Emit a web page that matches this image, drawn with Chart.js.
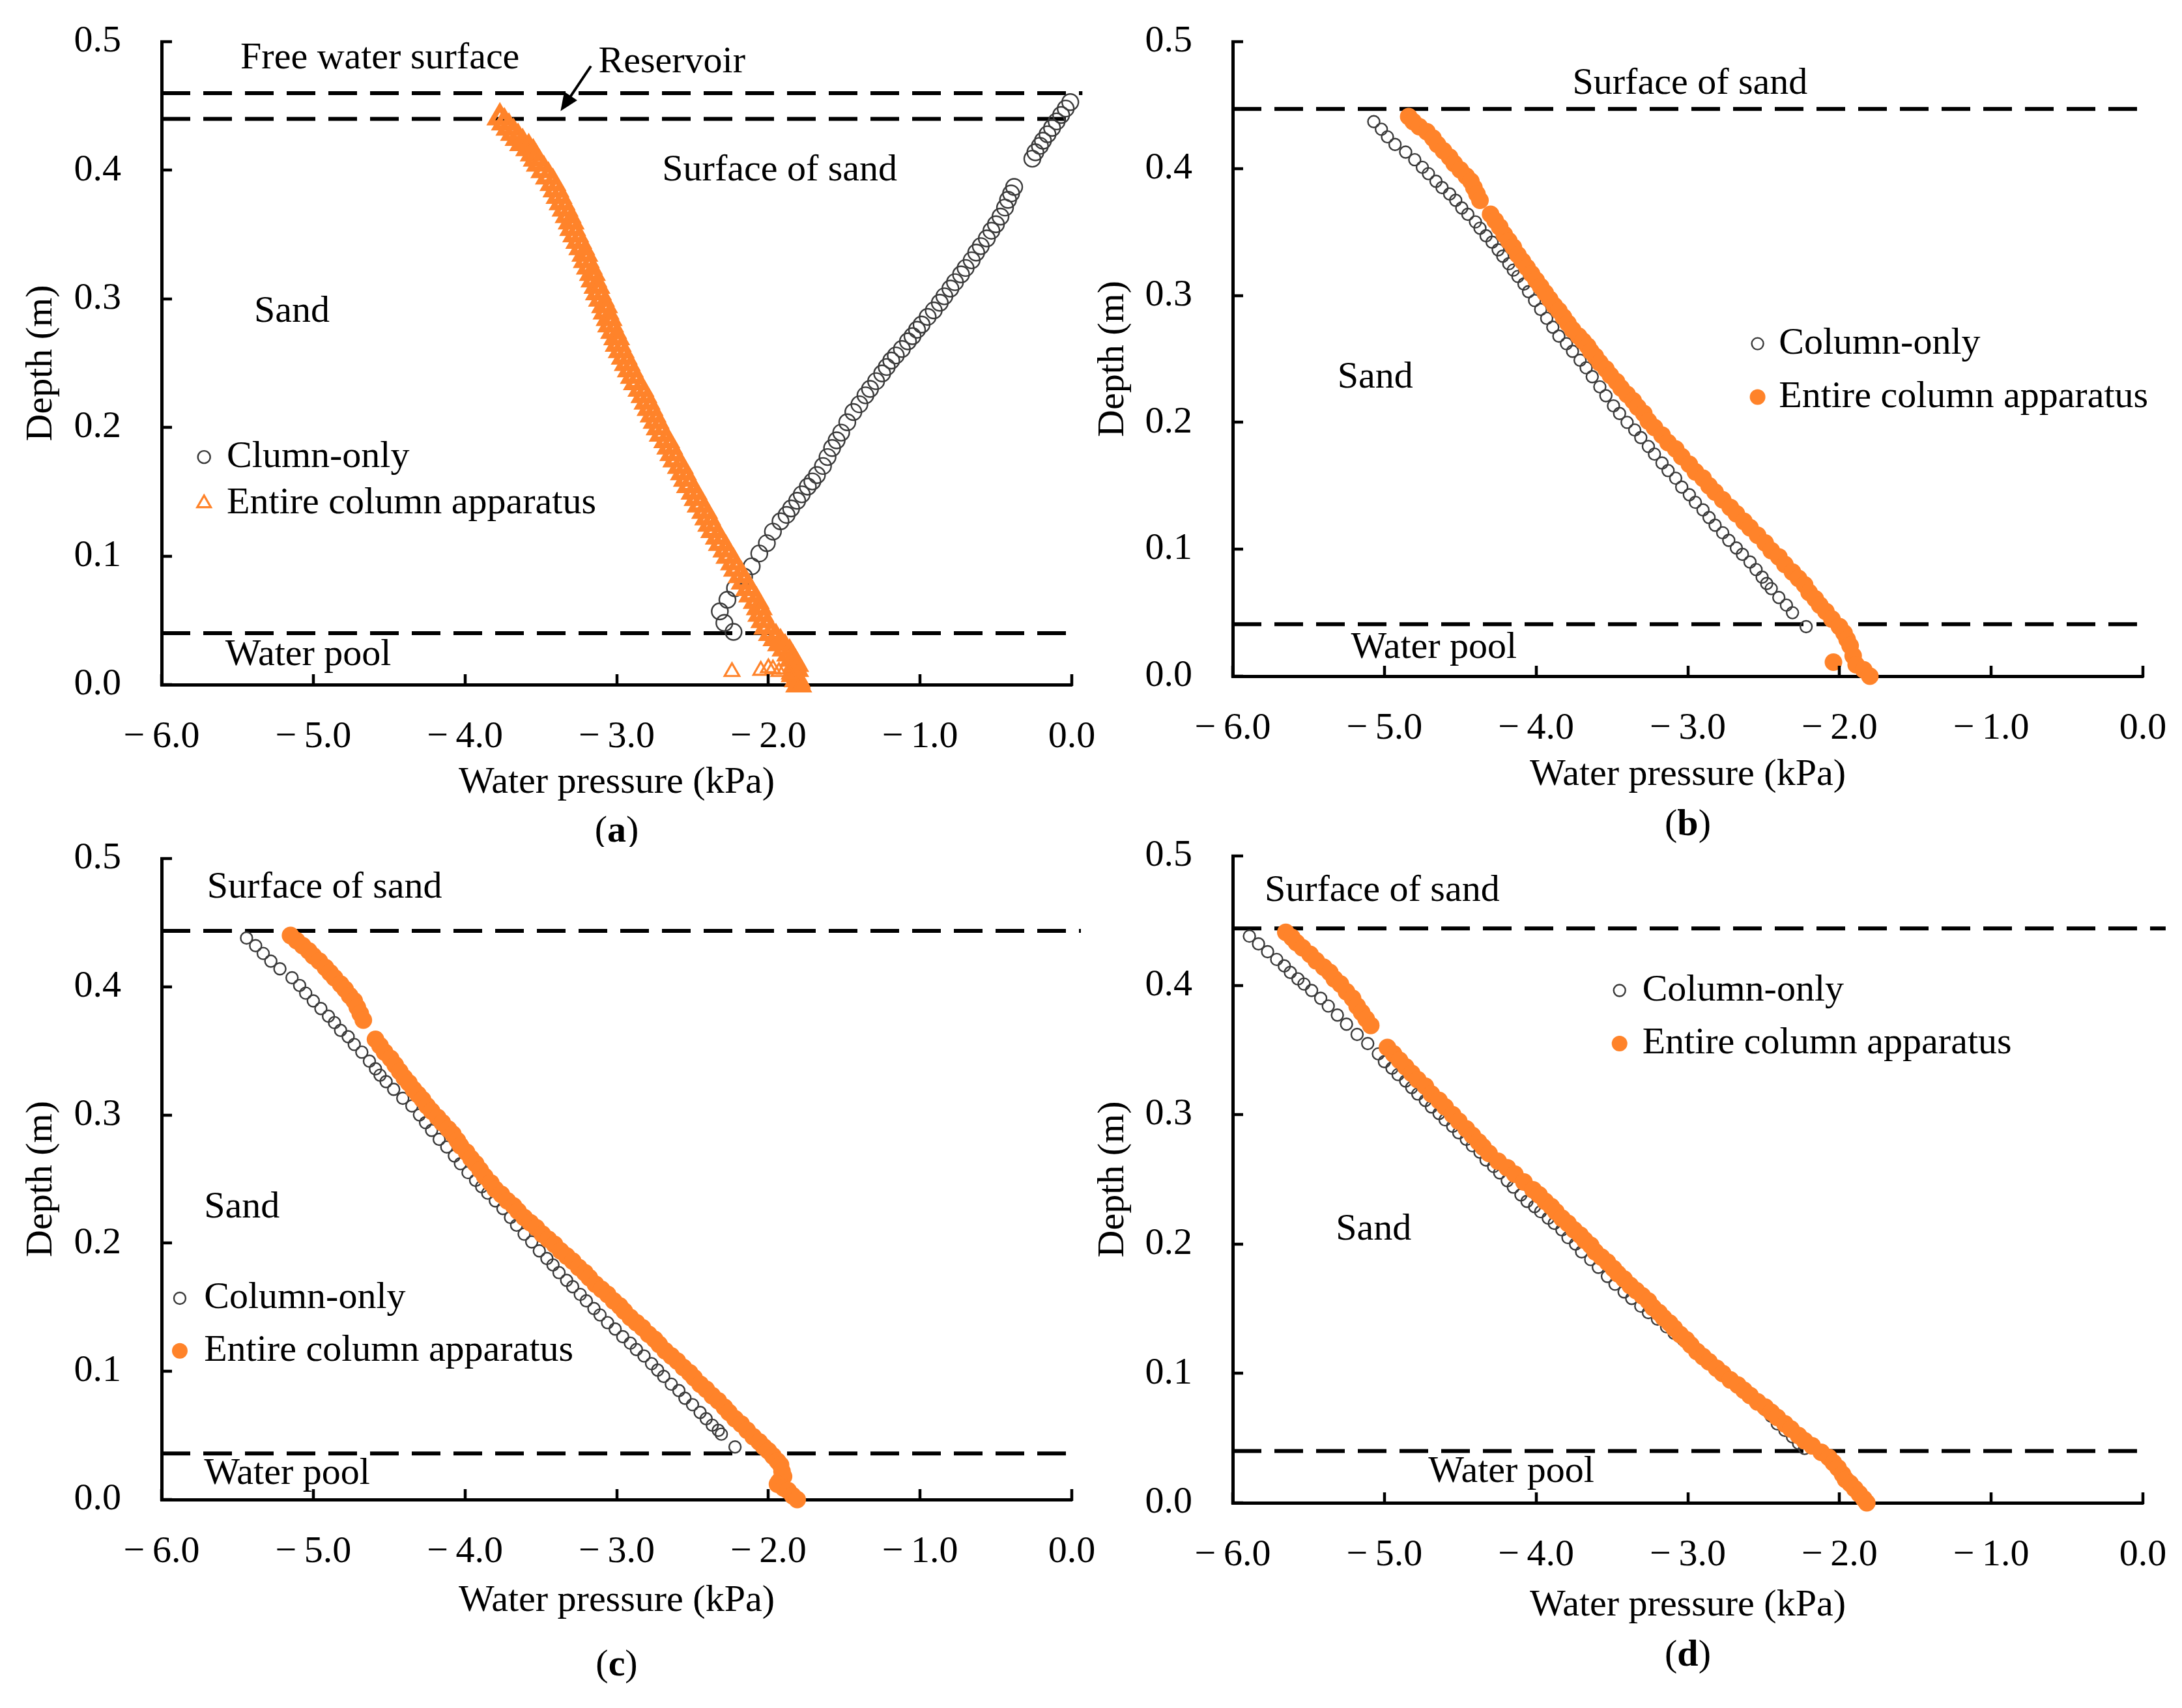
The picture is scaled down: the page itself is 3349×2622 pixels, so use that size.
<!DOCTYPE html>
<html>
<head>
<meta charset="utf-8">
<script src="https://cdn.jsdelivr.net/npm/chart.js@4.4.1/dist/chart.umd.min.js"></script>
<style>
html,body{margin:0;padding:0;background:#fff;}
body{width:3349px;height:2622px;position:relative;overflow:hidden;}
</style>
</head>
<body>
<script>
// ---------------- DATA ----------------
const xTickLabels = ['\u2212\u20096.0','\u2212\u20095.0','\u2212\u20094.0','\u2212\u20093.0','\u2212\u20092.0','\u2212\u20091.0','0.0'];
const yTickLabels = ['0.0','0.1','0.2','0.3','0.4','0.5'];
const xTitle = 'Water pressure (kPa)';
const yTitle = 'Depth (m)';
const seriesLabelsA = ['Clumn-only','Entire column apparatus'];
const seriesLabels = ['Column-only','Entire column apparatus'];

// panel (a): [pressure kPa, depth m]
const aColumnOnly = [[-2.23,0.041],[-2.29,0.048],[-2.32,0.057],[-2.27,0.066],[-2.22,0.075],[-2.16,0.084],[-2.11,0.092],[-2.06,0.102],[-2.01,0.110],[-1.97,0.119],[-1.92,0.127],[-1.88,0.132],[-1.85,0.137],[-1.81,0.143],[-1.78,0.148],[-1.74,0.154],[-1.71,0.158],[-1.68,0.163],[-1.64,0.170],[-1.61,0.177],[-1.58,0.184],[-1.55,0.190],[-1.52,0.196],[-1.48,0.204],[-1.44,0.212],[-1.40,0.218],[-1.36,0.225],[-1.33,0.230],[-1.29,0.236],[-1.25,0.242],[-1.22,0.247],[-1.19,0.252],[-1.16,0.256],[-1.12,0.261],[-1.08,0.267],[-1.05,0.271],[-1.02,0.276],[-0.99,0.280],[-0.95,0.286],[-0.91,0.291],[-0.87,0.297],[-0.84,0.302],[-0.80,0.308],[-0.77,0.313],[-0.73,0.319],[-0.70,0.324],[-0.66,0.330],[-0.63,0.336],[-0.60,0.341],[-0.56,0.347],[-0.53,0.353],[-0.50,0.358],[-0.47,0.364],[-0.44,0.371],[-0.42,0.377],[-0.40,0.382],[-0.38,0.387],[-0.26,0.409],[-0.24,0.414],[-0.21,0.419],[-0.19,0.423],[-0.16,0.428],[-0.13,0.433],[-0.10,0.438],[-0.07,0.443],[-0.04,0.448],[-0.01,0.453]];
const aEntire = [[-3.77,0.441],[-3.74,0.437],[-3.71,0.433],[-3.68,0.429],[-3.65,0.425],[-3.62,0.421],[-3.58,0.417],[-3.55,0.413],[-3.53,0.409],[-3.51,0.405],[-3.48,0.400],[-3.45,0.395],[-3.42,0.390],[-3.40,0.385],[-3.38,0.380],[-3.36,0.375],[-3.34,0.370],[-3.32,0.365],[-3.30,0.360],[-3.29,0.355],[-3.27,0.350],[-3.25,0.345],[-3.23,0.340],[-3.21,0.335],[-3.20,0.330],[-3.18,0.325],[-3.16,0.320],[-3.15,0.315],[-3.13,0.310],[-3.12,0.305],[-3.10,0.300],[-3.08,0.295],[-3.07,0.290],[-3.05,0.285],[-3.04,0.280],[-3.02,0.275],[-3.00,0.270],[-2.99,0.265],[-2.97,0.260],[-2.95,0.255],[-2.93,0.250],[-2.91,0.245],[-2.89,0.240],[-2.87,0.235],[-2.84,0.230],[-2.82,0.225],[-2.80,0.220],[-2.78,0.215],[-2.76,0.210],[-2.74,0.205],[-2.72,0.200],[-2.70,0.195],[-2.67,0.190],[-2.65,0.185],[-2.63,0.180],[-2.61,0.175],[-2.58,0.170],[-2.56,0.165],[-2.54,0.160],[-2.52,0.155],[-2.49,0.150],[-2.47,0.145],[-2.45,0.140],[-2.42,0.135],[-2.40,0.130],[-2.38,0.125],[-2.36,0.120],[-2.33,0.115],[-2.31,0.110],[-2.28,0.105],[-2.26,0.100],[-2.23,0.095],[-2.21,0.090],[-2.18,0.085],[-2.16,0.080],[-2.13,0.075],[-2.11,0.070],[-2.08,0.065],[-2.06,0.060],[-2.05,0.055],[-2.03,0.050],[-2.01,0.045],[-1.98,0.040],[-1.95,0.036],[-1.92,0.032],[-1.89,0.028],[-1.86,0.024],[-1.84,0.020],[-1.82,0.016],[-1.82,0.012],[-1.83,0.008],[-1.81,0.004],[-1.80,0.000]];
const aEntireLoose = [[-2.24,0.010],[-2.05,0.011],[-2.00,0.013],[-1.97,0.012],[-1.93,0.010],[-1.89,0.012],[-1.86,0.008],[-1.78,0.001]];

// panel (b)
const bColumnOnly = [[-5.07,0.437],[-5.02,0.431],[-4.98,0.425],[-4.93,0.419],[-4.86,0.413],[-4.80,0.407],[-4.75,0.401],[-4.71,0.396],[-4.66,0.390],[-4.62,0.385],[-4.57,0.380],[-4.53,0.375],[-4.49,0.369],[-4.45,0.364],[-4.40,0.358],[-4.37,0.353],[-4.33,0.347],[-4.29,0.342],[-4.25,0.336],[-4.22,0.331],[-4.18,0.325],[-4.15,0.320],[-4.12,0.315],[-4.08,0.309],[-4.05,0.303],[-4.01,0.296],[-3.97,0.289],[-3.93,0.282],[-3.89,0.275],[-3.85,0.268],[-3.80,0.262],[-3.76,0.256],[-3.71,0.249],[-3.67,0.243],[-3.63,0.236],[-3.58,0.228],[-3.54,0.221],[-3.49,0.213],[-3.45,0.207],[-3.40,0.200],[-3.35,0.194],[-3.31,0.188],[-3.26,0.181],[-3.22,0.175],[-3.17,0.168],[-3.13,0.162],[-3.08,0.156],[-3.04,0.149],[-2.99,0.143],[-2.95,0.137],[-2.90,0.131],[-2.86,0.125],[-2.82,0.119],[-2.77,0.113],[-2.73,0.107],[-2.68,0.101],[-2.64,0.096],[-2.59,0.090],[-2.55,0.084],[-2.51,0.078],[-2.48,0.073],[-2.45,0.069],[-2.40,0.062],[-2.35,0.056],[-2.31,0.050],[-2.22,0.039]];
const bEntire = [[-4.84,0.441],[-4.81,0.437],[-4.77,0.433],[-4.72,0.429],[-4.68,0.424],[-4.65,0.419],[-4.61,0.414],[-4.57,0.409],[-4.54,0.404],[-4.50,0.399],[-4.46,0.394],[-4.43,0.390],[-4.41,0.385],[-4.39,0.380],[-4.37,0.375],[-4.30,0.364],[-4.27,0.359],[-4.24,0.354],[-4.21,0.348],[-4.18,0.343],[-4.15,0.338],[-4.12,0.332],[-4.09,0.327],[-4.06,0.322],[-4.03,0.317],[-4.00,0.312],[-3.97,0.307],[-3.94,0.302],[-3.91,0.297],[-3.88,0.292],[-3.85,0.288],[-3.82,0.283],[-3.79,0.278],[-3.76,0.273],[-3.72,0.268],[-3.69,0.264],[-3.66,0.260],[-3.64,0.256],[-3.61,0.252],[-3.58,0.247],[-3.54,0.242],[-3.51,0.237],[-3.47,0.232],[-3.44,0.227],[-3.40,0.222],[-3.36,0.217],[-3.33,0.212],[-3.29,0.207],[-3.26,0.201],[-3.22,0.196],[-3.17,0.190],[-3.13,0.184],[-3.08,0.179],[-3.04,0.173],[-2.99,0.167],[-2.95,0.161],[-2.90,0.156],[-2.86,0.150],[-2.82,0.145],[-2.77,0.139],[-2.72,0.133],[-2.68,0.128],[-2.63,0.122],[-2.59,0.117],[-2.54,0.111],[-2.49,0.105],[-2.45,0.099],[-2.40,0.094],[-2.36,0.088],[-2.31,0.082],[-2.27,0.077],[-2.23,0.072],[-2.20,0.066],[-2.16,0.061],[-2.13,0.056],[-2.09,0.051],[-2.05,0.045],[-2.00,0.039],[-1.97,0.034],[-1.95,0.029],[-1.93,0.024],[-2.04,0.011],[-1.91,0.016],[-1.89,0.009],[-1.84,0.005],[-1.80,0.000]];

// panel (c)
const cColumnOnly = [[-5.44,0.438],[-5.38,0.432],[-5.33,0.426],[-5.28,0.420],[-5.22,0.414],[-5.14,0.407],[-5.09,0.401],[-5.05,0.395],[-5.00,0.389],[-4.95,0.383],[-4.90,0.377],[-4.86,0.372],[-4.82,0.366],[-4.77,0.361],[-4.73,0.355],[-4.68,0.349],[-4.63,0.342],[-4.59,0.336],[-4.56,0.331],[-4.52,0.326],[-4.47,0.320],[-4.41,0.313],[-4.35,0.307],[-4.30,0.300],[-4.26,0.294],[-4.22,0.288],[-4.17,0.281],[-4.12,0.275],[-4.07,0.268],[-4.03,0.262],[-3.98,0.255],[-3.93,0.249],[-3.89,0.244],[-3.85,0.239],[-3.80,0.233],[-3.75,0.227],[-3.70,0.220],[-3.66,0.214],[-3.61,0.207],[-3.56,0.201],[-3.51,0.194],[-3.46,0.188],[-3.42,0.183],[-3.38,0.177],[-3.33,0.171],[-3.29,0.166],[-3.24,0.160],[-3.20,0.155],[-3.15,0.149],[-3.11,0.144],[-3.06,0.138],[-3.01,0.133],[-2.96,0.127],[-2.91,0.122],[-2.87,0.117],[-2.82,0.112],[-2.77,0.106],[-2.73,0.101],[-2.69,0.096],[-2.64,0.090],[-2.59,0.085],[-2.55,0.079],[-2.50,0.074],[-2.45,0.068],[-2.41,0.063],[-2.37,0.058],[-2.33,0.054],[-2.31,0.051],[-2.22,0.041]];
const cEntire = [[-5.15,0.440],[-5.11,0.436],[-5.07,0.432],[-5.03,0.428],[-5.00,0.424],[-4.96,0.420],[-4.92,0.415],[-4.89,0.411],[-4.86,0.407],[-4.82,0.402],[-4.79,0.398],[-4.76,0.393],[-4.73,0.389],[-4.71,0.384],[-4.69,0.379],[-4.67,0.374],[-4.59,0.359],[-4.56,0.354],[-4.53,0.349],[-4.49,0.344],[-4.46,0.339],[-4.43,0.334],[-4.40,0.329],[-4.37,0.325],[-4.34,0.320],[-4.31,0.316],[-4.28,0.312],[-4.25,0.307],[-4.22,0.303],[-4.18,0.298],[-4.15,0.294],[-4.11,0.289],[-4.08,0.285],[-4.05,0.280],[-4.03,0.276],[-3.99,0.271],[-3.96,0.266],[-3.93,0.262],[-3.90,0.257],[-3.87,0.252],[-3.83,0.247],[-3.80,0.242],[-3.76,0.238],[-3.72,0.233],[-3.68,0.229],[-3.65,0.225],[-3.61,0.220],[-3.57,0.216],[-3.53,0.212],[-3.49,0.207],[-3.45,0.203],[-3.41,0.199],[-3.37,0.194],[-3.33,0.190],[-3.29,0.186],[-3.25,0.181],[-3.21,0.177],[-3.18,0.173],[-3.14,0.168],[-3.10,0.164],[-3.06,0.160],[-3.02,0.155],[-2.98,0.151],[-2.95,0.147],[-2.91,0.142],[-2.87,0.138],[-2.83,0.134],[-2.79,0.129],[-2.75,0.125],[-2.72,0.121],[-2.68,0.116],[-2.64,0.112],[-2.60,0.108],[-2.56,0.103],[-2.52,0.099],[-2.49,0.095],[-2.45,0.090],[-2.41,0.086],[-2.37,0.081],[-2.33,0.077],[-2.29,0.072],[-2.26,0.068],[-2.22,0.063],[-2.18,0.059],[-2.14,0.054],[-2.10,0.049],[-2.06,0.045],[-2.03,0.041],[-2.00,0.038],[-1.97,0.034],[-1.94,0.030],[-1.92,0.027],[-1.91,0.022],[-1.90,0.018],[-1.93,0.014],[-1.94,0.012],[-1.90,0.009],[-1.87,0.007],[-1.84,0.003],[-1.81,0.000]];

// panel (d)
const dColumnOnly = [[-5.89,0.438],[-5.83,0.432],[-5.77,0.426],[-5.71,0.420],[-5.66,0.415],[-5.62,0.410],[-5.57,0.405],[-5.53,0.401],[-5.48,0.396],[-5.42,0.390],[-5.37,0.384],[-5.31,0.377],[-5.25,0.370],[-5.18,0.362],[-5.11,0.355],[-5.04,0.347],[-5.00,0.341],[-4.95,0.336],[-4.91,0.331],[-4.86,0.326],[-4.82,0.321],[-4.78,0.316],[-4.73,0.311],[-4.69,0.306],[-4.64,0.301],[-4.60,0.296],[-4.55,0.291],[-4.51,0.286],[-4.46,0.281],[-4.42,0.276],[-4.37,0.271],[-4.33,0.265],[-4.28,0.260],[-4.24,0.255],[-4.19,0.249],[-4.15,0.244],[-4.10,0.238],[-4.06,0.233],[-4.01,0.229],[-3.97,0.225],[-3.92,0.220],[-3.88,0.216],[-3.83,0.211],[-3.79,0.205],[-3.74,0.200],[-3.70,0.194],[-3.64,0.188],[-3.59,0.182],[-3.53,0.175],[-3.48,0.169],[-3.42,0.163],[-3.37,0.158],[-3.31,0.152],[-3.26,0.147],[-3.20,0.142],[-3.14,0.136],[-3.09,0.131],[-3.03,0.126],[-2.97,0.120],[-2.92,0.115],[-2.87,0.110],[-2.81,0.104],[-2.75,0.099],[-2.69,0.093],[-2.63,0.088],[-2.58,0.083],[-2.53,0.077],[-2.49,0.072],[-2.45,0.067],[-2.41,0.061],[-2.36,0.056],[-2.31,0.051],[-2.27,0.046],[-2.23,0.042]];
const dEntire = [[-5.65,0.441],[-5.61,0.437],[-5.58,0.433],[-5.54,0.429],[-5.49,0.424],[-5.45,0.419],[-5.40,0.414],[-5.36,0.410],[-5.33,0.405],[-5.29,0.401],[-5.25,0.395],[-5.21,0.390],[-5.18,0.384],[-5.15,0.379],[-5.12,0.374],[-5.09,0.369],[-4.98,0.352],[-4.94,0.347],[-4.90,0.342],[-4.86,0.337],[-4.82,0.332],[-4.78,0.327],[-4.73,0.322],[-4.69,0.316],[-4.64,0.311],[-4.60,0.306],[-4.55,0.300],[-4.51,0.295],[-4.46,0.289],[-4.42,0.284],[-4.38,0.279],[-4.35,0.275],[-4.31,0.270],[-4.25,0.264],[-4.19,0.259],[-4.14,0.254],[-4.08,0.248],[-4.02,0.242],[-3.98,0.238],[-3.94,0.233],[-3.90,0.229],[-3.87,0.225],[-3.83,0.220],[-3.79,0.216],[-3.75,0.211],[-3.71,0.207],[-3.68,0.203],[-3.64,0.199],[-3.61,0.194],[-3.57,0.190],[-3.53,0.186],[-3.49,0.181],[-3.46,0.177],[-3.42,0.173],[-3.38,0.168],[-3.34,0.164],[-3.30,0.160],[-3.26,0.156],[-3.23,0.151],[-3.19,0.147],[-3.16,0.143],[-3.12,0.139],[-3.09,0.135],[-3.05,0.130],[-3.01,0.126],[-2.98,0.122],[-2.94,0.117],[-2.90,0.113],[-2.86,0.109],[-2.81,0.104],[-2.77,0.100],[-2.72,0.095],[-2.67,0.091],[-2.63,0.087],[-2.59,0.083],[-2.54,0.078],[-2.49,0.074],[-2.45,0.070],[-2.41,0.066],[-2.36,0.061],[-2.32,0.057],[-2.27,0.052],[-2.23,0.048],[-2.18,0.044],[-2.12,0.039],[-2.07,0.035],[-2.04,0.031],[-2.01,0.027],[-1.98,0.022],[-1.96,0.018],[-1.93,0.015],[-1.90,0.011],[-1.87,0.007],[-1.84,0.003],[-1.82,0.000]];

// reference levels (depth, m)
const aLevels = [0.46, 0.44, 0.04];
const bLevels = [0.447, 0.041];
const cLevels = [0.4436, 0.036];
const dLevels = [0.444, 0.040];

// ---------------- STYLE / LAYOUT ----------------
const FONT = "'Liberation Serif', 'Times New Roman', serif";
const FS = 58;
const ORANGE = '#FF832A';
const GREY = '#3a3a3a';
Chart.defaults.color = '#000';
Chart.defaults.font.family = FONT;
Chart.defaults.font.size = FS;

const panels = [
  { cap:'a', canvas:[0,0,1720,1300], area:[248,64,1645,1051], yTitleX:64, xTitleY:1202, capY:1277,
    col:aColumnOnly, ent:aEntire.concat(aEntireLoose), denseCount:aEntire.length, labels:seriesLabelsA,
    colR:12.5, entStyle:'triangle', entR:16, entBW:8, looseBW:3.2, entFill:'rgba(255,255,255,0)',
    levels:aLevels, levelEnds:[0.07,0,0],
    notes:[['Free water surface',-5.48,0.487],['Reservoir',-3.12,0.484],['Surface of sand',-2.70,0.400],['Sand',-5.39,0.290],['Water pool',-5.58,0.023]],
    arrow:[-3.17,0.481,-3.37,0.446],
    legend:{mx:-5.72, tx:-5.57, ys:[0.177,0.141], r:[9.5,12], bw:[2.4,3.2]} },
  { cap:'b', canvas:[1674,0,1675,1300], area:[1892,64,3289,1038], yTitleX:1709, xTitleY:1190, capY:1267,
    col:bColumnOnly, ent:bEntire, labels:seriesLabels, colR:9, entStyle:'circle', entR:13.5, entBW:0, entFill:ORANGE,
    levels:bLevels, levelEnds:[0,0],
    notes:[['Surface of sand',-3.76,0.467],['Sand',-5.31,0.235],['Water pool',-5.22,0.022]],
    legend:{mx:-2.54, tx:-2.40, ys:[0.262,0.220], r:[9,12], bw:[2.4,0]} },
  { cap:'c', canvas:[0,1240,1720,1382], area:[248,1318,1645,2302], yTitleX:64, xTitleY:2458, capY:2557,
    col:cColumnOnly, ent:cEntire, labels:seriesLabels, colR:9, entStyle:'circle', entR:13.5, entBW:0, entFill:ORANGE,
    levels:cLevels, levelEnds:[0.06,0],
    notes:[['Surface of sand',-5.70,0.477],['Sand',-5.72,0.228],['Water pool',-5.72,0.020]],
    legend:{mx:-5.88, tx:-5.72, ys:[0.157,0.116], r:[9,12], bw:[2.4,0]} },
  { cap:'d', canvas:[1674,1240,1675,1382], area:[1892,1314,3289,2307], yTitleX:1709, xTitleY:2465, capY:2542,
    col:dColumnOnly, ent:dEntire, labels:seriesLabels, colR:9, entStyle:'circle', entR:13.5, entBW:0, entFill:ORANGE,
    levels:dLevels, levelEnds:[0.15,0],
    notes:[['Surface of sand',-5.79,0.473],['Sand',-5.32,0.211],['Water pool',-4.71,0.024]],
    legend:{mx:-3.45, tx:-3.30, ys:[0.396,0.355], r:[9,12], bw:[2.4,0]} }
];

function drawMarker(ctx, style, r, bw, fill, stroke, x, y) {
  ctx.save();
  ctx.fillStyle = fill; ctx.strokeStyle = stroke; ctx.lineWidth = bw;
  if (Chart.helpers && Chart.helpers.drawPoint) {
    Chart.helpers.drawPoint(ctx, {pointStyle: style, radius: r, borderWidth: bw, rotation: 0}, x, y);
  } else {
    ctx.beginPath();
    if (style === 'triangle') {
      for (let i = 0; i < 3; i++) {
        const a = i * 2 * Math.PI / 3;
        const px = x + Math.sin(a) * r, py = y - Math.cos(a) * r;
        i ? ctx.lineTo(px, py) : ctx.moveTo(px, py);
      }
      ctx.closePath();
    } else ctx.arc(x, y, r, 0, Math.PI * 2);
    ctx.fill(); if (bw > 0) ctx.stroke();
  }
  ctx.restore();
}

const decor = {
  id: 'decor',
  afterDraw(chart) {
    const p = chart.options.plugins.decor;
    const ctx = chart.ctx, xs = chart.scales.x, ys = chart.scales.y;
    const ca = chart.chartArea;
    ctx.save();
    // inward tick marks
    ctx.strokeStyle = '#000'; ctx.lineWidth = 4.5; ctx.lineCap = 'butt';
    xs.ticks.forEach(t => {
      const px = Math.round(xs.getPixelForValue(t.value));
      ctx.beginPath(); ctx.moveTo(px, ca.bottom + 2); ctx.lineTo(px, ca.bottom - 16); ctx.stroke();
    });
    ys.ticks.forEach(t => {
      const py = Math.round(ys.getPixelForValue(t.value));
      ctx.beginPath(); ctx.moveTo(ca.left - 2, py); ctx.lineTo(ca.left + 16, py); ctx.stroke();
    });
    // annotations
    ctx.fillStyle = '#000';
    ctx.font = FS + 'px ' + FONT;
    ctx.textAlign = 'left'; ctx.textBaseline = 'middle';
    p.notes.forEach(n => ctx.fillText(n[0], xs.getPixelForValue(n[1]), ys.getPixelForValue(n[2])));
    // arrow
    if (p.arrow) {
      const x1 = xs.getPixelForValue(p.arrow[0]), y1 = ys.getPixelForValue(p.arrow[1]);
      const x2 = xs.getPixelForValue(p.arrow[2]), y2 = ys.getPixelForValue(p.arrow[3]);
      const ang = Math.atan2(y2 - y1, x2 - x1);
      const hl = 28, hw = 12;
      ctx.lineWidth = 4;
      ctx.beginPath(); ctx.moveTo(x1, y1); ctx.lineTo(x2 - Math.cos(ang) * hl * 0.8, y2 - Math.sin(ang) * hl * 0.8); ctx.stroke();
      ctx.beginPath();
      ctx.moveTo(x2, y2);
      ctx.lineTo(x2 - Math.cos(ang) * hl + Math.sin(ang) * hw, y2 - Math.sin(ang) * hl - Math.cos(ang) * hw);
      ctx.lineTo(x2 - Math.cos(ang) * hl - Math.sin(ang) * hw, y2 - Math.sin(ang) * hl + Math.cos(ang) * hw);
      ctx.closePath(); ctx.fill();
    }
    // legend
    const dsets = chart.data.datasets.filter(d => d.isSeries);
    dsets.forEach((d, i) => {
      const mx = xs.getPixelForValue(p.legend.mx), my = ys.getPixelForValue(p.legend.ys[i]);
      drawMarker(ctx, d.pointStyle, p.legend.r[i], p.legend.bw[i], d.backgroundColor, d.borderColor, mx, my);
      ctx.fillStyle = '#000';
      ctx.font = FS + 'px ' + FONT;
      ctx.fillText(d.label, xs.getPixelForValue(p.legend.tx), my);
    });
    // caption
    const cx = (ca.left + ca.right) / 2, cy = p.capY - p.canvas[1];
    const fN = FS + 'px ' + FONT, fB = 'bold ' + FS + 'px ' + FONT;
    ctx.font = fN; const w1 = ctx.measureText('(').width, w3 = ctx.measureText(')').width;
    ctx.font = fB; const w2 = ctx.measureText(p.cap).width;
    let sx = cx - (w1 + w2 + w3) / 2;
    ctx.textAlign = 'left';
    ctx.font = fN; ctx.fillText('(', sx, cy); sx += w1;
    ctx.font = fB; ctx.fillText(p.cap, sx, cy); sx += w2;
    ctx.font = fN; ctx.fillText(')', sx, cy);
    ctx.restore();
  }
};

panels.forEach(p => {
  const [cxp, cyp, cw, ch] = p.canvas;
  const wrap = document.createElement('div');
  wrap.style.cssText = `position:absolute;left:${cxp}px;top:${cyp}px;width:${cw}px;height:${ch}px;`;
  const cv = document.createElement('canvas');
  cv.width = cw; cv.height = ch;
  cv.style.width = cw + 'px'; cv.style.height = ch + 'px';
  wrap.appendChild(cv); document.body.appendChild(wrap);

  const LH = FS * 1.2;
  const padLeft = p.yTitleX - cxp - LH / 2;
  const YW = p.area[0] - cxp - padLeft;
  const XH = p.xTitleY - p.area[3] + LH / 2;
  const padBottom = cyp + ch - p.area[3] - XH;
  const padTop = p.area[1] - cyp;
  const padRight = cxp + cw - p.area[2];

  const levelSets = p.levels.map((lv, i) => ({
    type: 'line', data: [{x: -6, y: lv}, {x: p.levelEnds[i], y: lv}],
    borderColor: '#000', borderWidth: 6, borderDash: [44, 20], pointRadius: 0,
    showLine: true, fill: false, clip: false, order: 10
  }));

  const dense = p.denseCount;
  new Chart(cv, {
    type: 'scatter',
    data: {
      datasets: [
        ...levelSets,
        { label: p.labels[0], isSeries: true, data: p.col.map(([x, y]) => ({x, y})),
          pointStyle: 'circle', pointRadius: p.colR, borderWidth: 2.4, borderColor: GREY,
          backgroundColor: 'rgba(255,255,255,0)', showLine: false, clip: false, order: 2 },
        { label: p.labels[1], isSeries: true, data: p.ent.map(([x, y]) => ({x, y})),
          pointStyle: p.entStyle,
          pointRadius: dense ? (c => (c.dataIndex < dense ? p.entR : 13)) : p.entR,
          borderWidth: dense ? (c => (c.dataIndex < dense ? p.entBW : p.looseBW)) : p.entBW,
          borderColor: ORANGE,
          backgroundColor: p.entFill, showLine: false, clip: false, order: 1 }
      ]
    },
    options: {
      responsive: false, animation: false, devicePixelRatio: 1, events: [],
      layout: { padding: { left: padLeft, right: padRight, top: padTop, bottom: padBottom } },
      plugins: { legend: { display: false }, tooltip: { enabled: false }, title: { display: false }, decor: p },
      scales: {
        x: {
          type: 'linear', min: -6, max: 0,
          grid: { display: false, drawTicks: false },
          border: { display: true, color: '#000', width: 5 },
          ticks: { stepSize: 1, padding: 46, color: '#000', font: { family: FONT, size: FS },
                   maxRotation: 0, autoSkip: false, callback: (v, i) => xTickLabels[i] },
          title: { display: true, text: xTitle, color: '#000', font: { family: FONT, size: FS }, padding: 0 },
          afterFit: s => { s.height = XH; s.paddingLeft = 0; s.paddingRight = 0; }
        },
        y: {
          type: 'linear', min: 0, max: 0.5,
          grid: { display: false, drawTicks: false },
          border: { display: true, color: '#000', width: 5 },
          ticks: { stepSize: 0.1, padding: 62, color: '#000', font: { family: FONT, size: FS },
                   autoSkip: false, callback: (v, i) => yTickLabels[i] },
          title: { display: true, text: yTitle, color: '#000', font: { family: FONT, size: FS }, padding: 0 },
          afterFit: s => { s.width = YW; s.paddingTop = 0; s.paddingBottom = 0; }
        }
      }
    },
    plugins: [decor]
  });
});
</script>
</body>
</html>
